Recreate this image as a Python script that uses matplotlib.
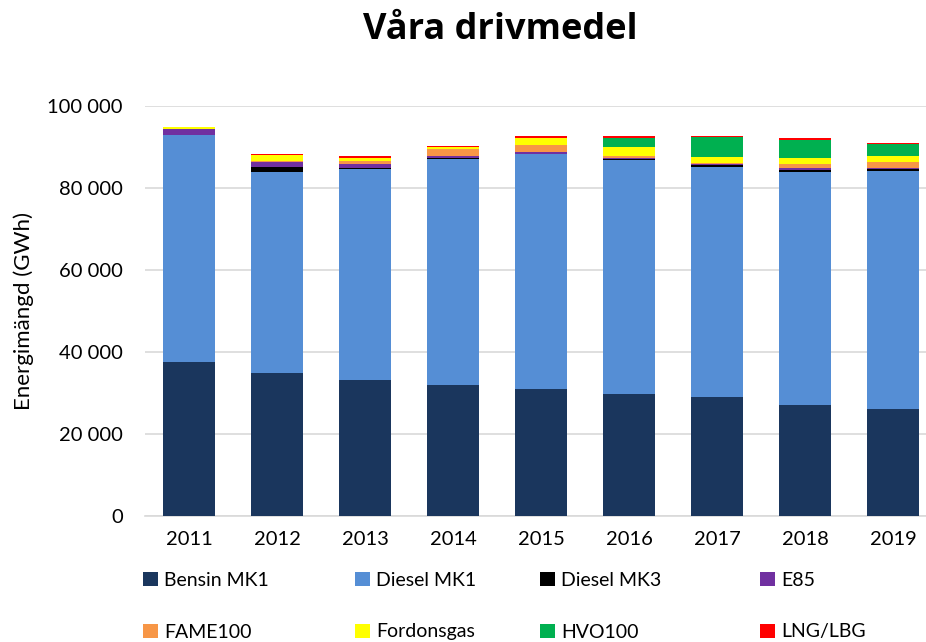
import matplotlib

matplotlib.use("Agg")

import matplotlib.pyplot as plt
import numpy as np
from matplotlib.ticker import FuncFormatter

years = ["2011", "2012", "2013", "2014", "2015", "2016", "2017", "2018", "2019"]

# GWh per fuel
bensin_mk1 = [37500, 34900, 33200, 32000, 31000, 29800, 29000, 27000, 26000]
diesel_mk1 = [55400, 49000, 51400, 55000, 57300, 57000, 56100, 56800, 58200]
diesel_mk3 = [0, 1200, 300, 400, 0, 300, 500, 500, 400]
e85 = [1500, 1200, 1000, 500, 600, 300, 200, 500, 300]
fame100 = [0, 300, 600, 1500, 1500, 500, 200, 1000, 1500]
fordonsgas = [500, 1500, 800, 700, 1800, 2000, 1500, 1500, 1500]
hvo100 = [0, 0, 0, 0, 100, 2400, 5000, 4500, 2800]
lng_lbg = [0, 300, 600, 200, 300, 400, 300, 300, 300]

series = [
    ("Bensin MK1", bensin_mk1, "#1a365d"),
    ("Diesel MK1", diesel_mk1, "#558ed5"),
    ("Diesel MK3", diesel_mk3, "#000000"),
    ("E85", e85, "#7030a0"),
    ("FAME100", fame100, "#f79646"),
    ("Fordonsgas", fordonsgas, "#ffff00"),
    ("HVO100", hvo100, "#00b050"),
    ("LNG/LBG", lng_lbg, "#ff0000"),
]

plt.rcParams["font.family"] = ["Lato", "DejaVu Sans"]

fig = plt.figure(figsize=(9.26, 6.42), dpi=100)
ax = fig.add_axes([145 / 926, 126 / 642, 792 / 926, 410 / 642])

x = np.arange(len(years))
bottom = np.zeros(len(years))
handles = []
for name, values, color in series:
    values = np.array(values, dtype=float)
    bars = ax.bar(x, values, width=0.59, bottom=bottom, color=color,
                  label=name, zorder=3)
    handles.append(bars)
    bottom += values

ax.set_xlim(-0.5, 8.5)
ax.set_ylim(0, 100000)
ax.set_yticks(np.arange(0, 100001, 20000))
ax.yaxis.set_major_formatter(FuncFormatter(lambda v, _: f"{int(v):,}".replace(",", " ")))
ax.set_xticks(x)
ax.set_xticklabels(years)
ax.grid(axis="y", color="#d9d9d9", linewidth=1.2, zorder=0)
for side in ("top", "right", "left"):
    ax.spines[side].set_visible(False)
ax.spines["bottom"].set_color("#d9d9d9")
ax.spines["bottom"].set_linewidth(1.2)
ax.tick_params(axis="both", length=0, labelsize=14.5, colors="#000000")
ax.tick_params(axis="x", pad=11)
ax.tick_params(axis="y", pad=16)
ax.set_ylabel("Energimängd (GWh)", fontsize=16)
ax.yaxis.set_label_coords((34 - 145) / 792, 0.5)

fig.text(500 / 926, 1 - 30 / 642, "Våra drivmedel", ha="center", va="center",
         family=["Open Sans", "DejaVu Sans"], fontsize=26, fontweight="bold")

# one legend entry per slot so the columns sit where the reference has them
col_x = [143, 355, 540, 760]
row_y = [580, 632]
for i, h in enumerate(handles):
    row, col = divmod(i, 4)
    fig.legend(handles=[h], labels=[series[i][0]], loc="center left",
               bbox_to_anchor=(col_x[col] / 926, 1 - row_y[row] / 642),
               frameon=False, fontsize=14, handlelength=0.75,
               handleheight=0.75, handletextpad=0.35,
               borderaxespad=0, borderpad=0)

fig.savefig("out.png", dpi=100)
